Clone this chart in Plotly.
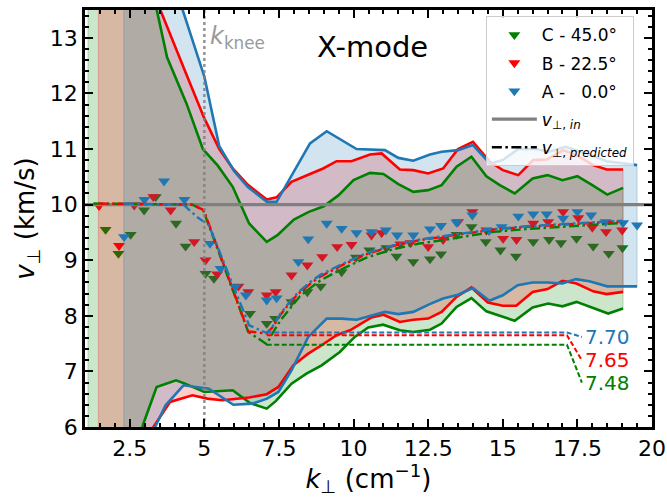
import plotly.graph_objects as go

# ------------------------------------------------------------------ data
X_RANGE = [1, 20]
Y_RANGE = [6, 13.5]
x_ticks = [2.5, 5, 7.5, 10, 12.5, 15, 17.5, 20]
x_tick_labels = ["2.5", "5", "7.5", "10", "12.5", "15", "17.5", "20"]
y_ticks = [6, 7, 8, 9, 10, 11, 12, 13]

v_in = 10.0
k_knee = 5.0

# --- series C (45.0 deg, green)
c_up_k = [1.1, 3.0, 3.75, 4.4, 4.95, 5.45, 5.95, 6.5, 7.09, 7.45, 8.0, 8.5, 9.0, 9.5, 10.0, 10.55,
          11.0, 11.5, 12.0, 12.5, 12.95, 13.45, 13.95, 14.45, 14.9, 15.4, 16.0, 16.5, 17.0, 17.5,
          18.0, 18.5, 19.03]
c_up_v = [20, 14.5, 12.65, 11.82, 11.0, 10.7, 10.32, 9.66, 9.33, 9.45, 9.73, 9.87, 9.97, 10.17,
          10.44, 10.57, 10.55, 10.37, 10.23, 10.26, 10.35, 10.68, 10.86, 10.51, 10.35, 10.2, 10.47,
          10.53, 10.44, 10.51, 10.35, 10.18, 10.3]
c_lo_k = [1.1, 2.5, 2.95, 3.4, 4.05, 4.35, 5.0, 5.95, 6.53, 7.09, 7.4, 7.92, 8.42, 8.93, 9.54,
          10.04, 10.49, 10.99, 11.55, 12.0, 12.56, 12.95, 13.45, 13.95, 14.45, 14.95, 15.4, 16.0,
          16.52, 17.0, 17.47, 18.03, 18.53, 19.03]
c_lo_v = [2, 5.0, 6.05, 6.72, 6.84, 6.78, 6.63, 6.66, 6.43, 6.33, 6.47, 6.78, 6.96, 7.11, 7.35,
          7.62, 7.79, 7.84, 7.74, 7.71, 7.75, 7.86, 8.16, 8.32, 8.08, 7.99, 7.91, 8.15, 8.22, 8.17,
          8.25, 8.14, 8.04, 8.13]
c_pt_k = [1.69, 2.12, 2.53, 2.98, 3.37, 4.05, 4.37, 5.04, 5.32, 6.53, 7.09, 7.37, 7.92, 8.45, 8.9,
          9.6, 10.08, 10.53, 11.1, 11.44, 12.0, 12.56, 12.93, 13.45, 13.95, 14.43, 14.92, 15.44,
          16.02, 16.55, 16.95, 17.47, 18.03, 18.55, 19.01]
c_pt_v = [9.55, 9.12, 9.46, 9.9, 10.14, 9.66, 9.25, 8.76, 8.67, 8.04, 7.86, 7.95, 8.25, 8.43, 8.53,
          8.79, 9.05, 9.18, 9.22, 9.07, 8.97, 9.02, 9.11, 9.46, 9.6, 9.33, 9.18, 9.07, 9.33, 9.37,
          9.31, 9.39, 9.25, 9.12, 9.22]
c_pred_k = [1.28, 4.6, 4.96, 6.47, 7.09, 7.3, 7.55, 7.8, 8.2, 8.6, 8.9, 9.65, 10.45, 11.35, 12.2,
            13.1, 13.9, 14.7, 15.8, 16.9, 18.0, 19.0]
c_pred_v = [10.02, 10.0, 9.9, 7.71, 7.49, 7.7, 7.92, 8.08, 8.35, 8.52, 8.64, 8.85, 9.05, 9.2, 9.3,
            9.37, 9.44, 9.51, 9.56, 9.6, 9.63, 9.67]

# --- series B (22.5 deg, red)
b_up_k = [1.45, 3.0, 4.3, 5.0, 5.5, 5.95, 6.45, 7.09, 7.42, 7.92, 8.54, 8.98, 9.43, 9.93, 10.55,
          10.94, 11.55, 12.0, 12.5, 13.0, 13.5, 14.0, 14.57, 15.0, 15.52, 16.02, 16.47, 17.02,
          17.47, 18.03, 18.48, 19.03]
b_up_v = [20, 14.2, 12.47, 11.55, 11.0, 10.65, 10.36, 10.09, 10.13, 10.41, 10.55, 10.65, 10.78,
          10.78, 10.9, 10.92, 10.63, 10.62, 10.56, 10.65, 11.0, 11.13, 10.77, 10.62, 10.53, 10.8,
          10.81, 10.98, 10.89, 10.71, 10.63, 10.63]
b_lo_k = [1.45, 2.6, 3.29, 3.85, 4.6, 5.1, 5.6, 6.5, 7.09, 7.48, 7.98, 8.48, 8.93, 9.43, 9.88,
          10.33, 10.6, 11.0, 11.55, 12.0, 12.5, 12.95, 13.45, 13.95, 14.5, 15.0, 15.45, 16.0, 16.5,
          17.0, 17.47, 18.03, 18.48, 19.03]
b_lo_v = [2, 5.0, 6.0, 6.45, 6.57, 6.51, 6.48, 6.53, 6.59, 6.72, 7.11, 7.32, 7.47, 7.65, 7.74,
          7.89, 7.97, 8.02, 7.89, 7.93, 7.95, 8.07, 8.34, 8.51, 8.24, 8.18, 8.18, 8.43, 8.48, 8.63,
          8.58, 8.44, 8.39, 8.43]
b_pt_k = [1.47, 2.14, 2.65, 3.29, 3.87, 4.66, 5.04, 5.43, 6.14, 6.47, 7.09, 7.39, 7.92, 8.45, 8.95,
          9.45, 9.93, 10.6, 10.94, 11.57, 11.91, 12.5, 13.0, 13.5, 13.98, 14.45, 15.01, 15.46,
          16.02, 16.52, 17.02, 17.53, 18.0, 18.46, 19.0]
b_pt_v = [9.98, 9.26, 9.99, 10.14, 9.9, 9.33, 9.0, 8.75, 8.53, 8.43, 8.37, 8.43, 8.73, 8.91, 9.06,
          9.24, 9.28, 9.45, 9.49, 9.29, 9.31, 9.24, 9.37, 9.69, 9.87, 9.54, 9.39, 9.37, 9.66, 9.69,
          9.87, 9.76, 9.59, 9.51, 9.54]
b_pred_k = [1.45, 4.6, 4.98, 6.47, 7.09, 7.3, 7.55, 7.9, 8.2, 8.6, 8.9, 9.65, 10.45, 11.35, 12.2,
            13.1, 13.9, 14.7, 15.8, 16.9, 18.0, 19.0]
b_pred_v = [10.02, 10.0, 9.9, 7.72, 7.68, 7.8, 8.02, 8.26, 8.42, 8.6, 8.71, 8.92, 9.11, 9.26, 9.36,
            9.43, 9.49, 9.55, 9.6, 9.64, 9.67, 9.7]

# --- series A (0.0 deg, blue)
a_up_k = [2.3, 3.5, 4.0, 5.0, 5.5, 6.0, 6.45, 7.09, 7.42, 7.95, 8.54, 9.1, 10.1, 11.05, 11.5, 12.0,
          12.56, 12.95, 13.5, 14.0, 14.57, 15.0, 15.52, 16.1, 16.55, 17.1, 17.8, 18.48, 19.5]
a_up_v = [20, 15.0, 13.95, 12.3, 11.05, 10.6, 10.32, 10.05, 10.05, 10.55, 11.1, 11.32, 11.0, 10.98,
          10.84, 10.79, 10.9, 10.95, 10.98, 11.07, 10.74, 10.8, 11.0, 11.0, 10.95, 11.04, 10.92,
          10.78, 10.71]
a_lo_k = [2.3, 2.9, 3.35, 3.7, 4.3, 5.15, 5.97, 6.6, 7.1, 7.48, 7.92, 8.48, 9.1, 9.6, 10.1, 10.6,
          11.05, 11.5, 12.0, 12.55, 13.0, 13.5, 14.0, 14.55, 15.0, 15.5, 16.0, 16.5, 17.0, 17.45,
          17.9, 18.5, 19.5]
a_lo_v = [2, 5.5, 6.0, 6.39, 6.75, 6.69, 6.4, 6.42, 6.51, 6.63, 7.02, 7.62, 7.95, 7.95, 7.93, 8.01,
          8.07, 8.03, 8.07, 8.21, 8.31, 8.38, 8.5, 8.27, 8.37, 8.55, 8.6, 8.6, 8.58, 8.66, 8.62,
          8.53, 8.53]
a_pt_k = [2.31, 2.99, 3.65, 4.33, 5.19, 5.54, 6.03, 6.39, 7.09, 7.42, 8.15, 8.48, 9.1, 9.6, 10.1,
          10.6, 11.08, 11.46, 12.0, 12.56, 12.93, 13.45, 13.98, 14.54, 14.96, 15.52, 16.02, 16.47,
          17.02, 17.5, 17.96, 18.45, 19.03, 19.5]
a_pt_v = [9.42, 10.09, 10.42, 10.09, 9.3, 8.85, 8.52, 8.37, 8.28, 8.32, 8.97, 9.38, 9.66, 9.57,
          9.49, 9.51, 9.54, 9.45, 9.45, 9.56, 9.62, 9.68, 9.81, 9.53, 9.6, 9.79, 9.83, 9.83, 9.75,
          9.87, 9.81, 9.69, 9.67, 9.63]
a_pred_k = [2.3, 4.3, 4.75, 5.15, 6.5, 7.09, 7.3, 7.55, 7.9, 8.2, 8.6, 8.9, 9.65, 10.45, 11.35,
            12.2, 13.1, 13.9, 14.7, 15.8, 16.9, 18.0, 19.0]
a_pred_v = [10.02, 10.0, 9.78, 9.63, 7.83, 7.69, 7.82, 8.04, 8.28, 8.45, 8.63, 8.74, 8.94, 9.13,
            9.27, 9.37, 9.44, 9.5, 9.56, 9.61, 9.65, 9.68, 9.71]

# plateau (minimum predicted) values and their labels
plateau_names = ["C", "B", "A"]
plateau_values = [7.48, 7.65, 7.70]
plateau_labels = ["7.48", "7.65", "7.70"]
plateau_start_k = 7.09
plateau_end_k = 17.15
label_k = 17.7
label_v = [6.80, 7.20, 7.62]

series_names = ["C - 45.0°", "B - 22.5°", "A -\u00a0\u00a0\u00a00.0°"]

# ------------------------------------------------------------------ styles
GREEN = "#008000"
RED = "#ff0000"
BLUE = "#1f77b4"
FILLS = {"C": "rgba(0,128,0,0.2)", "B": "rgba(255,0,0,0.2)", "A": "rgba(31,119,180,0.2)"}
COLS = {"C": GREEN, "B": RED, "A": BLUE}

series = {
    "C": dict(up=(c_up_k, c_up_v), lo=(c_lo_k, c_lo_v), pt=(c_pt_k, c_pt_v),
              pred=(c_pred_k, c_pred_v), name=series_names[0]),
    "B": dict(up=(b_up_k, b_up_v), lo=(b_lo_k, b_lo_v), pt=(b_pt_k, b_pt_v),
              pred=(b_pred_k, b_pred_v), name=series_names[1]),
    "A": dict(up=(a_up_k, a_up_v), lo=(a_lo_k, a_lo_v), pt=(a_pt_k, a_pt_v),
              pred=(a_pred_k, a_pred_v), name=series_names[2]),
}
order = ["C", "B", "A"]

fig = go.Figure()

# fills + markers (same z-level, insertion order)
for s in order:
    d = series[s]
    uk, uv = d["up"]
    lk, lv = d["lo"]
    px = list(uk) + list(reversed(lk)) + [uk[0]]
    py = list(uv) + list(reversed(lv)) + [uv[0]]
    fig.add_trace(go.Scatter(x=px, y=py, mode="lines", fill="toself",
                             fillcolor=FILLS[s], line=dict(color=FILLS[s], width=1.3),
                             hoverinfo="skip", showlegend=False))
    fig.add_trace(go.Scatter(x=d["pt"][0], y=d["pt"][1], mode="markers", name=d["name"],
                             legendgroup="g" + s,
                             marker=dict(symbol="triangle-down", size=10.5, color=COLS[s],
                                         line=dict(width=0)),
                             showlegend=True))

# bound lines
for s in order:
    d = series[s]
    for key in ("up", "lo"):
        fig.add_trace(go.Scatter(x=d[key][0], y=d[key][1], mode="lines",
                                 line=dict(color=COLS[s], width=2.6),
                                 hoverinfo="skip", showlegend=False))

# v_in line
fig.add_trace(go.Scatter(x=X_RANGE, y=[v_in, v_in], mode="lines",
                         line=dict(color="gray", width=3.2), legendgroup="gin",
                         name="<i>v</i><sub>⊥, <i>in</i></sub>", showlegend=True))

# predicted lines
DASHDOT = "10px,3.5px,2.5px,3.5px"
for s in order:
    d = series[s]
    fig.add_trace(go.Scatter(x=d["pred"][0], y=d["pred"][1], mode="lines",
                             line=dict(color=COLS[s], width=2.4, dash=DASHDOT),
                             hoverinfo="skip", showlegend=False))

fig.add_trace(go.Scatter(x=[None], y=[None], mode="lines", legendgroup="gpred",
                         line=dict(color="black", width=2.4, dash=DASHDOT),
                         name="<i>v</i><sub>⊥, <i>predicted</i></sub>", showlegend=True))

# plateau dashed lines + labels
for s, val, lab, lv in zip(plateau_names, plateau_values, plateau_labels, label_v):
    fig.add_trace(go.Scatter(x=[plateau_start_k, plateau_end_k, label_k - 0.05],
                             y=[val, val, lv], mode="lines",
                             line=dict(color=COLS[s], width=2, dash="5px,2.5px"),
                             hoverinfo="skip", showlegend=False))
    fig.add_annotation(x=label_k, y=lv, text=lab, showarrow=False, xanchor="left",
                       yanchor="middle", font=dict(size=20, color=COLS[s]))

# knee line
fig.add_trace(go.Scatter(x=[k_knee, k_knee], y=Y_RANGE, mode="lines",
                         line=dict(color="rgba(128,128,128,0.85)", width=2.5, dash="dot"),
                         hoverinfo="skip", showlegend=False))

fig.add_annotation(x=k_knee + 0.12, y=13.0, text="<i>k</i><sub>knee</sub>", showarrow=False,
                   xanchor="left", yanchor="middle", font=dict(size=24, color="#9a9a9a"))
fig.add_annotation(x=10.65, y=12.83, text="X-mode", showarrow=False, xanchor="center",
                   yanchor="middle", font=dict(size=29, color="black"))

axis_common = dict(showline=True, linecolor="black", linewidth=2.5, mirror="allticks",
                   ticks="inside", ticklen=8, tickwidth=2, tickcolor="black",
                   showgrid=False, zeroline=False, automargin=False)

fig.update_xaxes(range=X_RANGE, tickvals=x_ticks, ticktext=x_tick_labels,
                 title=dict(text="<i>k</i><sub>⊥</sub> (cm<sup>−1</sup>)", standoff=6),
                 minor=dict(ticks="inside", dtick=0.5, tick0=0, ticklen=4.5, tickwidth=1.6,
                            tickcolor="black"),
                 **axis_common)
fig.update_yaxes(range=Y_RANGE, tickvals=y_ticks,
                 title=dict(text="<i>v</i><sub>⊥</sub> (km/s)", standoff=8),
                 minor=dict(ticks="inside", dtick=0.2, tick0=0, ticklen=4.5, tickwidth=1.6,
                            tickcolor="black"),
                 **axis_common)

fig.update_layout(
    width=667, height=497,
    margin=dict(l=85, r=15, t=10, b=70, autoexpand=False),
    plot_bgcolor="white", paper_bgcolor="white",
    font=dict(family="DejaVu Sans", size=22, color="black"),
    legend=dict(x=0.707, y=0.985, xanchor="left", yanchor="top",
                bgcolor="rgba(255,255,255,0.8)", bordercolor="#cccccc", borderwidth=1,
                font=dict(size=17), itemwidth=45, tracegroupgap=3),
)

fig.write_html("out.html", config={"displayModeBar": False},
               post_script="document.body.style.margin='0';document.body.style.padding='0';")
